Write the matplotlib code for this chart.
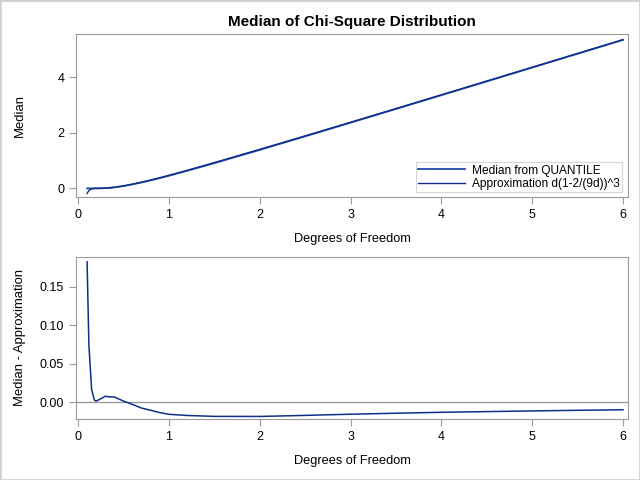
import matplotlib
matplotlib.use("Agg")
import matplotlib.pyplot as plt
import numpy as np

plt.rcParams['font.family'] = ['Liberation Sans', 'DejaVu Sans']

# degrees of freedom
df = [0.1, 0.12, 0.15, 0.18, 0.2, 0.25, 0.3, 0.35, 0.4, 0.5, 0.6, 0.7, 0.8,
      0.9, 1.0, 1.2, 1.5, 2.0, 2.5, 3.0, 3.5, 4.0, 4.5, 5.0, 5.5, 6.0]

# median (QUANTILE)
median = [0.0, 0.0, 0.0, 0.0006, 0.0012, 0.0048, 0.013, 0.024, 0.042, 0.0873,
          0.147, 0.215, 0.291, 0.371, 0.4549, 0.632, 0.909, 1.3863, 1.8738,
          2.3660, 2.8604, 3.3567, 3.8535, 4.3515, 4.8494, 5.3481]

# approximation d(1-2/(9d))^3
approx = [-0.1825, -0.0742, -0.0167, -0.0023, -0.0003, 0.0003, 0.0052, 0.0170,
          0.0351, 0.0857, 0.1498, 0.2225, 0.3014, 0.3844, 0.4705, 0.6491,
          0.9273, 1.4047, 1.8908, 2.3815, 2.8746, 3.3697, 3.8656, 4.3627,
          4.8598, 5.3578]

diff = np.array(median) - np.array(approx)

c_med = '#1f4aa8'
c_app = '#0f2f8a'
gray = '#9a9a9a'

fig = plt.figure(figsize=(6.4, 4.8), dpi=100)
fig.patches.append(plt.Rectangle((0, 0), 1, 1, transform=fig.transFigure,
                                 fill=False, edgecolor='#d0d0d0', lw=2))

ax1 = fig.add_axes([76/640, 1 - 197/480, 552/640, 163/480])
ax2 = fig.add_axes([76/640, 1 - 419/480, 552/640, 162/480])

ax1.plot(df, median, color=c_med, lw=1.3, label='Median from QUANTILE')
ax1.plot(df, approx, color=c_app, lw=1.0, label='Approximation d(1-2/(9d))^3')
ax1.set_xlim(-0.022, 6.055)
ax1.set_ylim(-0.31, 5.56)
ax1.set_yticks([0, 2, 4])
ax1.set_ylabel('Median', fontsize=9.4)
ax1.set_xlabel('Degrees of Freedom', fontsize=9.2, labelpad=8.5)
ax1.set_title('Median of Chi-Square Distribution', fontsize=11, fontweight='bold', pad=6)
leg = ax1.legend(loc='lower right', bbox_to_anchor=(0.99, 0.03), fontsize=8.6,
                 frameon=True, fancybox=False, borderaxespad=0, handlelength=3.9,
                 borderpad=0.2, labelspacing=0.1, handletextpad=0.6)
leg.get_frame().set_edgecolor('#cccccc')
leg.get_frame().set_linewidth(0.8)

ax2.axhline(0, color=gray, lw=1)
ax2.plot(df, diff, color=c_app, lw=1.1)
ax2.set_xlim(-0.022, 6.055)
ax2.set_ylim(-0.0217, 0.1887)
ax2.set_yticks([0.0, 0.05, 0.10, 0.15])
ax2.set_yticklabels(['0.00', '0.05', '0.10', '0.15'])
ax2.set_ylabel('Median - Approximation', fontsize=9.4)
ax2.set_xlabel('Degrees of Freedom', fontsize=9.2, labelpad=8.5)

for ax in (ax1, ax2):
    ax.set_xticks([0, 1, 2, 3, 4, 5, 6])
    for s in ax.spines.values():
        s.set_color(gray)
    ax.tick_params(colors=gray, labelcolor='black', labelsize=9, length=5)
    ax.yaxis.set_label_coords(-0.0905, 0.5)

fig.savefig('out.png', dpi=100)
